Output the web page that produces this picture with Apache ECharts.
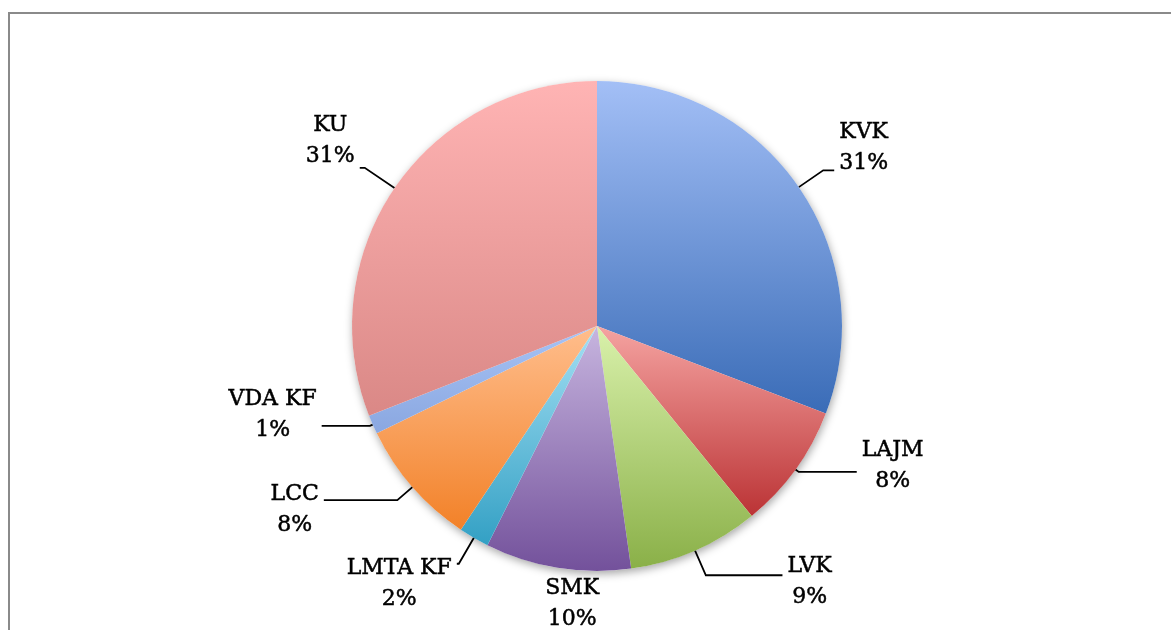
<!DOCTYPE html>
<html>
<head>
<meta charset="utf-8">
<script src="https://cdn.jsdelivr.net/npm/echarts@6/dist/echarts.min.js"></script>
<style>
html,body{margin:0;padding:0;background:#fff;overflow:hidden;}
#frame{position:absolute;left:8px;top:12px;width:1200px;height:700px;border-top:2px solid #8a8a8a;border-left:2px solid #8a8a8a;box-sizing:border-box;}
#chart{position:absolute;left:0;top:0;width:1171px;height:630px;}
</style>
</head>
<body>
<div id="frame"></div>
<div id="chart"></div>
<script>
const categories = ['KVK', 'LAJM', 'LVK', 'SMK', 'LMTA KF', 'LCC', 'VDA KF', 'KU'];
const values = [30.8, 8.3, 8.65, 9.6, 2.0, 8.4, 1.25, 30.95];
const topColors = ['#a3bff6', '#f5a3a1', '#d9f1ab', '#c7b5df', '#a5e0f4', '#ffbe8d', '#a7c3f5', '#ffb4b4'];
const bottomColors = ['#3a6cb7', '#bb3335', '#8ab048', '#73519b', '#33a0c4', '#f28128', '#8aa7e0', '#da8886'];

// label leader styling per slice
const lineLen = [29.6, 4, 27, 36, 30, 20, 3, 36];
const lineLen2 = [11, 58, 76.6, -52.5, 2, 73.5, 48.3, 5];
const labelPad = [[0,0,46,0],[0,0,12,0],[14,0,0,0],[0,0,0,0],[40,0,0,0],[19,0,0,0],[0,0,22,0],[0,0,55,0]];
const showLine = [true, true, true, false, true, true, true, true];

const FONT = 'DejaVu Serif';
const chart = echarts.init(document.getElementById('chart'), null, {renderer: 'canvas'});

const data = categories.map((name, i) => ({
  name: name,
  value: values[i],
  itemStyle: {
    color: {
      type: 'linear', x: 0, y: 0, x2: 0, y2: 1,
      colorStops: [{offset: 0, color: topColors[i]}, {offset: 1, color: bottomColors[i]}]
    }
  },
  label: {padding: labelPad[i]},
  labelLine: {show: showLine[i], length: lineLen[i], length2: lineLen2[i]}
}));

const total = values.reduce((a, b) => a + b, 0);

chart.setOption({
  animation: false,
  series: [
    {
      type: 'pie',
      silent: true,
      center: [597, 326],
      radius: 245,
      z: 1,
      label: {show: false},
      labelLine: {show: false},
      itemStyle: {
        color: '#ffffff',
        shadowBlur: 8,
        shadowOffsetX: 1,
        shadowOffsetY: 3,
        shadowColor: 'rgba(0,0,0,0.35)'
      },
      data: [{value: total, name: 'all'}]
    },
    {
      type: 'pie',
      silent: true,
      center: [597, 326],
      radius: 245,
      z: 2,
      startAngle: 90,
      clockwise: true,
      avoidLabelOverlap: false,
      itemStyle: {borderWidth: 0},
      label: {
        show: true,
        position: 'outside',
        distanceToLabelLine: 5,
        fontFamily: FONT,
        fontSize: 22,
        color: '#000',
        formatter: p => '{c|' + p.name + '}\n{c|' + Math.round(p.percent) + '%}',
        rich: {
          c: {align: 'center', fontFamily: FONT, fontSize: 22, lineHeight: 31, color: '#000',
              textBorderColor: '#000', textBorderWidth: 0.5}
        }
      },
      labelLine: {
        show: true,
        smooth: false,
        lineStyle: {color: '#000', width: 1.8}
      },
      emphasis: {disabled: true},
      data: data
    }
  ]
});
</script>
</body>
</html>
